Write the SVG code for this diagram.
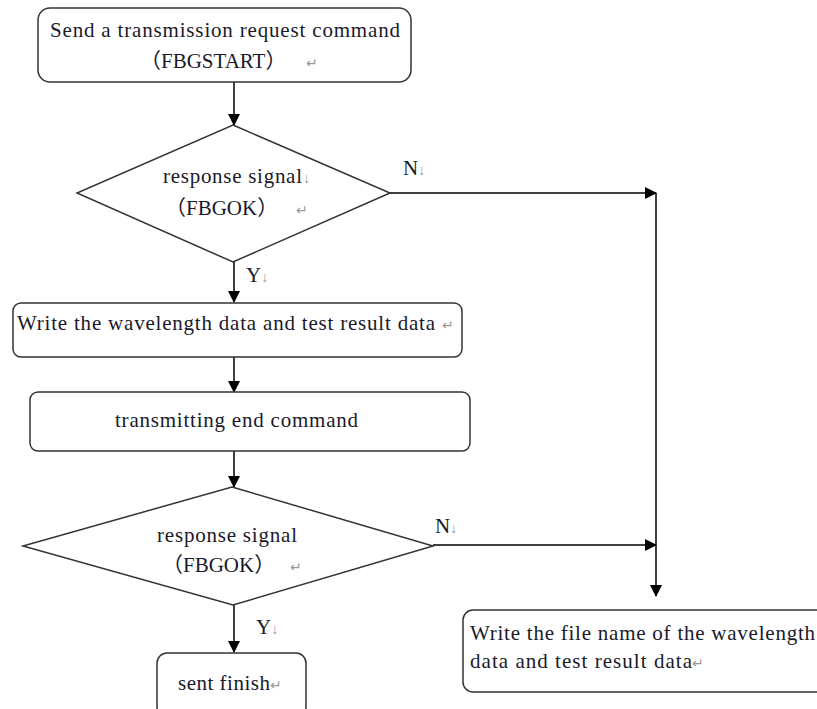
<svg xmlns="http://www.w3.org/2000/svg" width="817" height="709" viewBox="0 0 817 709">
<defs>
<marker id="ah" markerWidth="12" markerHeight="12" refX="11" refY="6" orient="auto" markerUnits="userSpaceOnUse">
<path d="M0,0 L12,6 L0,12 Z" fill="#000"/>
</marker>
<style>
.box{fill:#fff;stroke:#333;stroke-width:1.5}
.dia{fill:#fff;stroke:#333;stroke-width:1.5}
.t{font-family:"Liberation Serif","Times New Roman","Noto Sans CJK SC",serif;font-size:21px;fill:#1a1a2a}
.pm{fill:#999;font-size:14px}
.ln{stroke:#000;stroke-width:1.5;fill:none}
</style>
</defs>
<rect width="817" height="709" fill="#fff"/>
<g id="connectors">
<path class="ln" d="M234,82 V125" marker-end="url(#ah)"/>
<path class="ln" d="M390,193 H656" marker-end="url(#ah)"/>
<path class="ln" d="M656,193 V596" marker-end="url(#ah)"/>
<path class="ln" d="M234,261 V302" marker-end="url(#ah)"/>
<path class="ln" d="M234,357 V392" marker-end="url(#ah)"/>
<path class="ln" d="M234,451 V487" marker-end="url(#ah)"/>
<path class="ln" d="M433,545 H656" marker-end="url(#ah)"/>
<path class="ln" d="M234,605 V652" marker-end="url(#ah)"/>
<text class="t" x="403" y="175">N<tspan class="pm">↓</tspan></text>
<text class="t" x="246" y="282">Y<tspan class="pm">↓</tspan></text>
<text class="t" x="435" y="533">N<tspan class="pm">↓</tspan></text>
<text class="t" x="256" y="634">Y<tspan class="pm">↓</tspan></text>
</g>
<g id="n1">
<rect class="box" x="38" y="8" width="373" height="74" rx="12"/>
<text class="t" x="50" y="37" textLength="350">Send a transmission request command</text>
<text class="t" x="140" y="68">（FBGSTART）</text>
<text class="t pm" x="306" y="68">↵</text>
</g>
<g id="d1">
<polygon class="dia" points="233,125 390,193 233,262 77,193"/>
<text class="t" x="163" y="183" textLength="139">response signal</text>
<text class="t pm" x="303" y="183">↓</text>
<text class="t" x="165" y="215">（FBGOK）</text>
<text class="t pm" x="296" y="215">↵</text>
</g>
<g id="n2">
<rect class="box" x="13" y="303" width="449" height="54" rx="8"/>
<text class="t" x="17" y="330" textLength="418">Write the wavelength data and test result data</text>
<text class="t pm" x="442" y="330">↵</text>
</g>
<g id="n3">
<rect class="box" x="30" y="392" width="440" height="59" rx="8"/>
<text class="t" x="115" y="427" textLength="243">transmitting end command</text>
</g>
<g id="d2">
<polygon class="dia" points="232,487 433,546 233,605 23,546"/>
<text class="t" x="157" y="542" textLength="140">response signal</text>
<text class="t" x="162" y="572">（FBGOK）</text>
<text class="t pm" x="290" y="572">↵</text>
</g>
<g id="n4">
<rect class="box" x="157" y="653" width="149" height="64" rx="10"/>
<text class="t" x="178" y="690" textLength="92">sent finish</text>
<text class="t pm" x="270" y="690">↵</text>
</g>
<g id="n5">
<rect class="box" x="463" y="610" width="370" height="82" rx="10"/>
<text class="t" x="470" y="640" textLength="345">Write the file name of the wavelength</text>
<text class="t" x="470" y="668" textLength="222">data and test result data</text>
<text class="t pm" x="692" y="668">↵</text>
</g>
</svg>
